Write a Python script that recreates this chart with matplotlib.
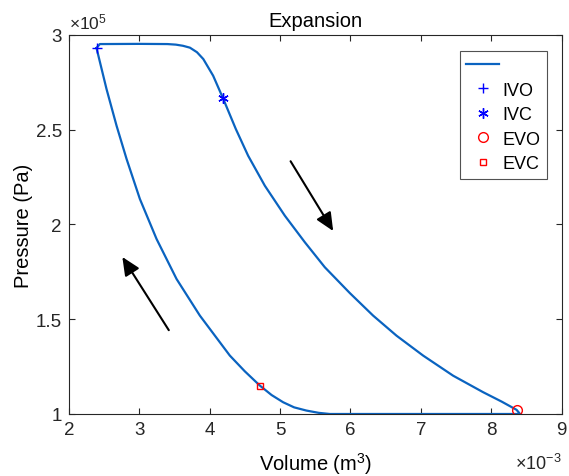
import matplotlib
matplotlib.use("Agg")
import matplotlib.pyplot as plt

plt.rcParams['font.family'] = ['Liberation Sans', 'DejaVu Sans']
plt.rcParams['mathtext.fontset'] = 'custom'
plt.rcParams['mathtext.rm'] = 'Liberation Sans'
plt.rcParams['mathtext.it'] = 'Liberation Sans:italic'

# cycle loop, volume in 1e-3 m^3, pressure in 1e5 Pa
vol = [2.393, 2.44, 3.0, 3.40, 3.52, 3.62, 3.72, 3.82, 3.91, 4.05, 4.19, 4.372,
       4.547, 4.784, 5.068, 5.352, 5.636, 5.991, 6.322, 6.655, 7.033, 7.459,
       7.885, 8.15, 8.36, 8.41, 7.0, 5.707, 5.55, 5.376, 5.20, 5.044, 4.88,
       4.713, 4.50, 4.287, 3.861, 3.53, 3.246, 3.009, 2.82, 2.678, 2.535, 2.393]
press = [2.930, 2.951, 2.952, 2.951, 2.948, 2.942, 2.932, 2.908, 2.872, 2.784,
         2.665, 2.503, 2.362, 2.204, 2.046, 1.906, 1.774, 1.638, 1.519, 1.413,
         1.308, 1.202, 1.115, 1.065, 1.022, 1.0, 1.0, 1.0, 1.006, 1.018, 1.035,
         1.062, 1.10, 1.150, 1.225, 1.308, 1.519, 1.712, 1.923, 2.134, 2.345,
         2.520, 2.714, 2.930]

ivo = (2.393, 2.930)
ivc = (4.19, 2.665)
evo = (8.36, 1.022)
evc = (4.713, 1.150)

arrow_tails = [(3.42, 1.442), (5.15, 2.333)]
arrow_heads = [(2.76, 1.828), (5.755, 1.965)]

fig = plt.figure(figsize=(5.69, 4.77), dpi=100)
ax = fig.add_axes([0.121, 0.130, 0.866, 0.795])

line, = ax.plot(vol, press, color='#0a63c0', lw=1.6)
h1, = ax.plot(*ivo, '+', color='b', ms=7.5, mew=1)
h2, = ax.plot(*ivc, marker=(6, 2, 0), color='b', ms=7.5, mew=1, ls='none')
h3, = ax.plot(*evo, 'o', color='r', mfc='none', ms=7, mew=1)
h4, = ax.plot(*evc, 's', color='r', mfc='none', ms=5, mew=1)

for t, h in zip(arrow_tails, arrow_heads):
    ax.annotate('', xy=h, xytext=t,
                arrowprops=dict(arrowstyle='-|>,head_length=1.1,head_width=0.5',
                                color='k', lw=1.5, shrinkA=0, shrinkB=0))

ax.set_xlim(2, 9)
ax.set_ylim(1, 3)
ax.set_xticks([2, 3, 4, 5, 6, 7, 8, 9])
ax.set_yticks([1, 1.5, 2, 2.5, 3])
ax.set_xticklabels(['2', '3', '4', '5', '6', '7', '8', '9'])
ax.set_yticklabels(['1', '1.5', '2', '2.5', '3'])
ax.tick_params(direction='in', top=True, right=True, labelsize=13.5,
               colors='#262626', length=4, width=0.8, pad=5)
for s in ax.spines.values():
    s.set_color('#262626')
    s.set_linewidth(0.8)

ax.set_title('Expansion', fontsize=14.5, pad=6)
ax.set_xlabel('Volume (m$^{3}$)', fontsize=14.5, labelpad=9)
ax.set_ylabel('Pressure (Pa)', fontsize=14.5, labelpad=2)
ax.text(0.0, 1.008, r'$\times$10$^{5}$', transform=ax.transAxes,
        ha='left', va='bottom', fontsize=12.5, color='#262626')
ax.text(1.0, -0.13, r'$\times$10$^{-3}$', transform=ax.transAxes,
        ha='right', va='center', fontsize=13, color='#262626')

leg = ax.legend([line, h1, h2, h3, h4], ['', 'IVO', 'IVC', 'EVO', 'EVC'],
                loc='upper right', bbox_to_anchor=(0.970, 0.958),
                borderaxespad=0, fontsize=13, fancybox=False,
                edgecolor='#262626', handlelength=1.8, handletextpad=0.2,
                borderpad=0.35, labelspacing=0.42)
leg.get_frame().set_linewidth(0.8)

fig.savefig('out.png', dpi=100)
